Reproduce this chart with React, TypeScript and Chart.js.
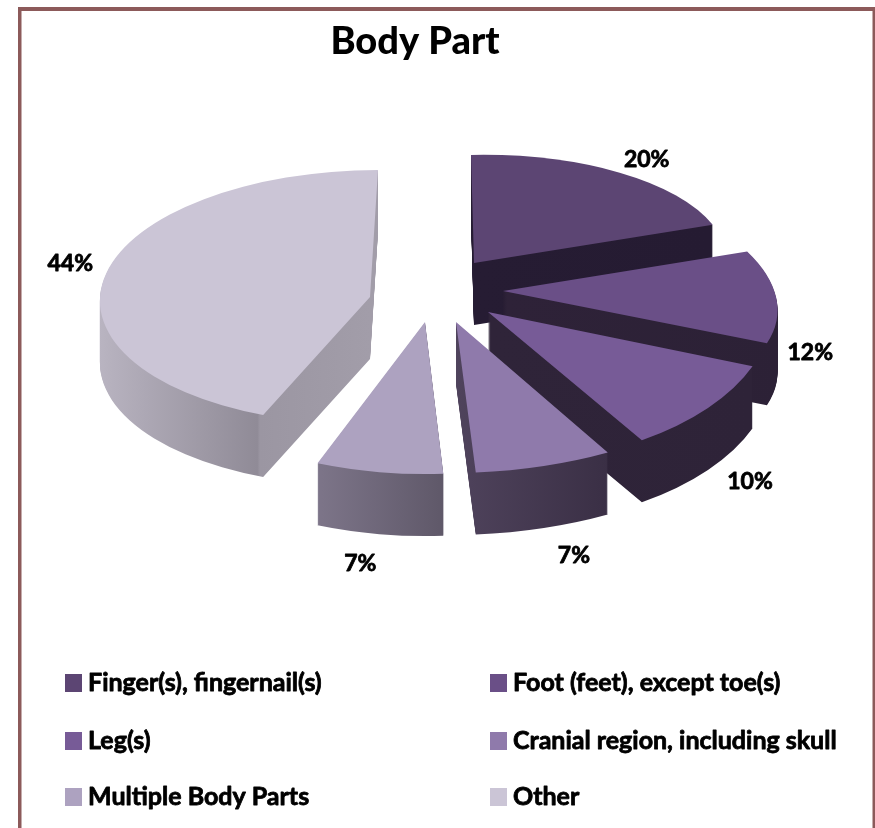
import React, { useEffect, useRef } from "react";
import { Chart, registerables } from "chart.js";

Chart.register(...registerables);

const categories = [
  "Finger(s), fingernail(s)",
  "Foot (feet), except toe(s)",
  "Leg(s)",
  "Cranial region, including skull",
  "Multiple Body Parts",
  "Other",
];
const shares = [20, 12, 10, 7, 7, 44];
const faceColors = ["#5c4573", "#6a4f87", "#775b97", "#8f7aab", "#ada2c0", "#cbc5d6"];

// Projection of each exploded wedge: where its apex lands, ellipse radii and shear.
const apexX = [474, 503, 488, 456, 425, 370];
const apexY = [263, 291, 312, 322, 322, 297];
const radiusX = [252, 271, 283, 315, 292, 270];
const radiusY = [108, 125, 153, 151, 152, 127];
const skewX = [3, 44, 20, 0, 0, -8];
const skewY = [-5, -1, -12, -4, 0, 0];
const labelNudgeX = [27, 34, 42, 30, -19, -36];
const labelNudgeY = [-13, 55, 74, 90, 91, -10];
const wallStops: [number, string][][] = [
  [[0, "#261c33"], [1, "#251b32"]],
  [[0, "#2e2238"], [1, "#2c2136"]],
  [[0, "#2f2439"], [1, "#2e2338"]],
  [[0, "#4f435c"], [1, "#3a2f45"]],
  [[0, "#7d7589"], [1, "#5f5869"]],
  [[0, "#b9b4c1"], [0.61, "#908b97"], [0.62, "#9b96a2"], [1, "#a29da9"]],
];
const DEPTH = 62;
const FONT = "Lato, 'Open Sans', sans-serif";

const legendColX = [65, 490];
const legendRowY = [683, 741, 797];

const heavyText = (ctx: any, text: string, x: number, y: number) => {
  ctx.fillText(text, x, y);
  ctx.strokeText(text, x, y);
};

const pie3d = {
  id: "pie3d",
  beforeDraw(chart: any) {
    const { ctx, width, height } = chart;
    ctx.save();
    ctx.fillStyle = "#ffffff";
    ctx.fillRect(0, 0, width, height);
    ctx.fillStyle = "#8c5a5a";
    ctx.fillRect(18, 7, 855, 4);
    ctx.fillRect(18, 7, 3.5, height - 7);
    ctx.fillRect(872.5, 7, 2.5, height - 7);
    ctx.restore();
  },
  beforeDatasetDraw(chart: any) {
    const { ctx } = chart;
    const arcs = chart.getDatasetMeta(0).data;
    arcs.forEach((arc: any, i: number) => {
      const R = arc.outerRadius;
      const a0 = arc.startAngle;
      const a1 = arc.endAngle;
      // horizontal extent of the wedge, from its own angles
      let lo = 0;
      let hi = 0;
      for (let k = 0; k <= 64; k++) {
        const c = Math.cos(a0 + ((a1 - a0) * k) / 64);
        lo = Math.min(lo, c * R);
        hi = Math.max(hi, c * R);
      }
      const base = arc.options;
      const wall = ctx.createLinearGradient(arc.x + lo, 0, arc.x + hi, 0);
      wallStops[i].forEach(([p, col]) => wall.addColorStop(p, col));
      for (let d = DEPTH; d >= 0; d--) {
        ctx.save();
        ctx.translate(apexX[i], apexY[i] + d);
        ctx.transform(radiusX[i] / R, skewY[i] / R, skewX[i] / R, radiusY[i] / R, 0, 0);
        ctx.translate(-arc.x, -arc.y);
        arc.options = { ...base, backgroundColor: d === 0 ? faceColors[i] : wall, borderWidth: 0 };
        arc.draw(ctx);
        ctx.restore();
      }
      arc.options = base;
    });
    return false;
  },
  afterDraw(chart: any) {
    const { ctx } = chart;
    const arcs = chart.getDatasetMeta(0).data;
    ctx.save();
    ctx.fillStyle = "#000000";
    ctx.strokeStyle = "#000000";
    ctx.lineWidth = 0.8;
    ctx.lineJoin = "round";
    ctx.textAlign = "center";
    ctx.textBaseline = "middle";
    ctx.font = `bold 23px ${FONT}`;
    arcs.forEach((arc: any, i: number) => {
      const mid = (arc.startAngle + arc.endAngle) / 2;
      const c = Math.cos(mid);
      const s = Math.sin(mid);
      const x = apexX[i] + c * radiusX[i] + s * skewX[i] + labelNudgeX[i];
      const y = apexY[i] + c * skewY[i] + s * radiusY[i] + labelNudgeY[i];
      heavyText(ctx, `${shares[i]}%`, x, y);
    });
    ctx.textAlign = "left";
    ctx.font = `bold 25px ${FONT}`;
    categories.forEach((name, i) => {
      const x = legendColX[i % 2];
      const y = legendRowY[Math.floor(i / 2)];
      ctx.fillStyle = faceColors[i];
      ctx.fillRect(x, y - 9, 17, 18);
      ctx.fillStyle = "#000000";
      heavyText(ctx, name, x + 23, y);
    });
    ctx.restore();
  },
};

export default function App() {
  const ref = useRef<HTMLCanvasElement | null>(null);
  useEffect(() => {
    const chart = new Chart(ref.current as HTMLCanvasElement, {
      type: "pie",
      data: {
        labels: categories,
        datasets: [{ data: shares, backgroundColor: faceColors, borderWidth: 0 }],
      },
      options: {
        responsive: false,
        animation: false,
        layout: { padding: { right: 45 } },
        plugins: {
          legend: { display: false },
          tooltip: { enabled: false },
          title: {
            display: true,
            text: "Body Part",
            color: "#000000",
            font: { family: FONT, size: 38, weight: 900 },
            padding: { top: 19, bottom: 10 },
          },
        },
      },
      plugins: [pie3d],
    } as any);
    return () => chart.destroy();
  }, []);
  return (
    <div style={{ position: "absolute", left: 0, top: 0, width: 875, height: 828 }}>
      <canvas ref={ref} width={875} height={828} style={{ display: "block" }} />
    </div>
  );
}
